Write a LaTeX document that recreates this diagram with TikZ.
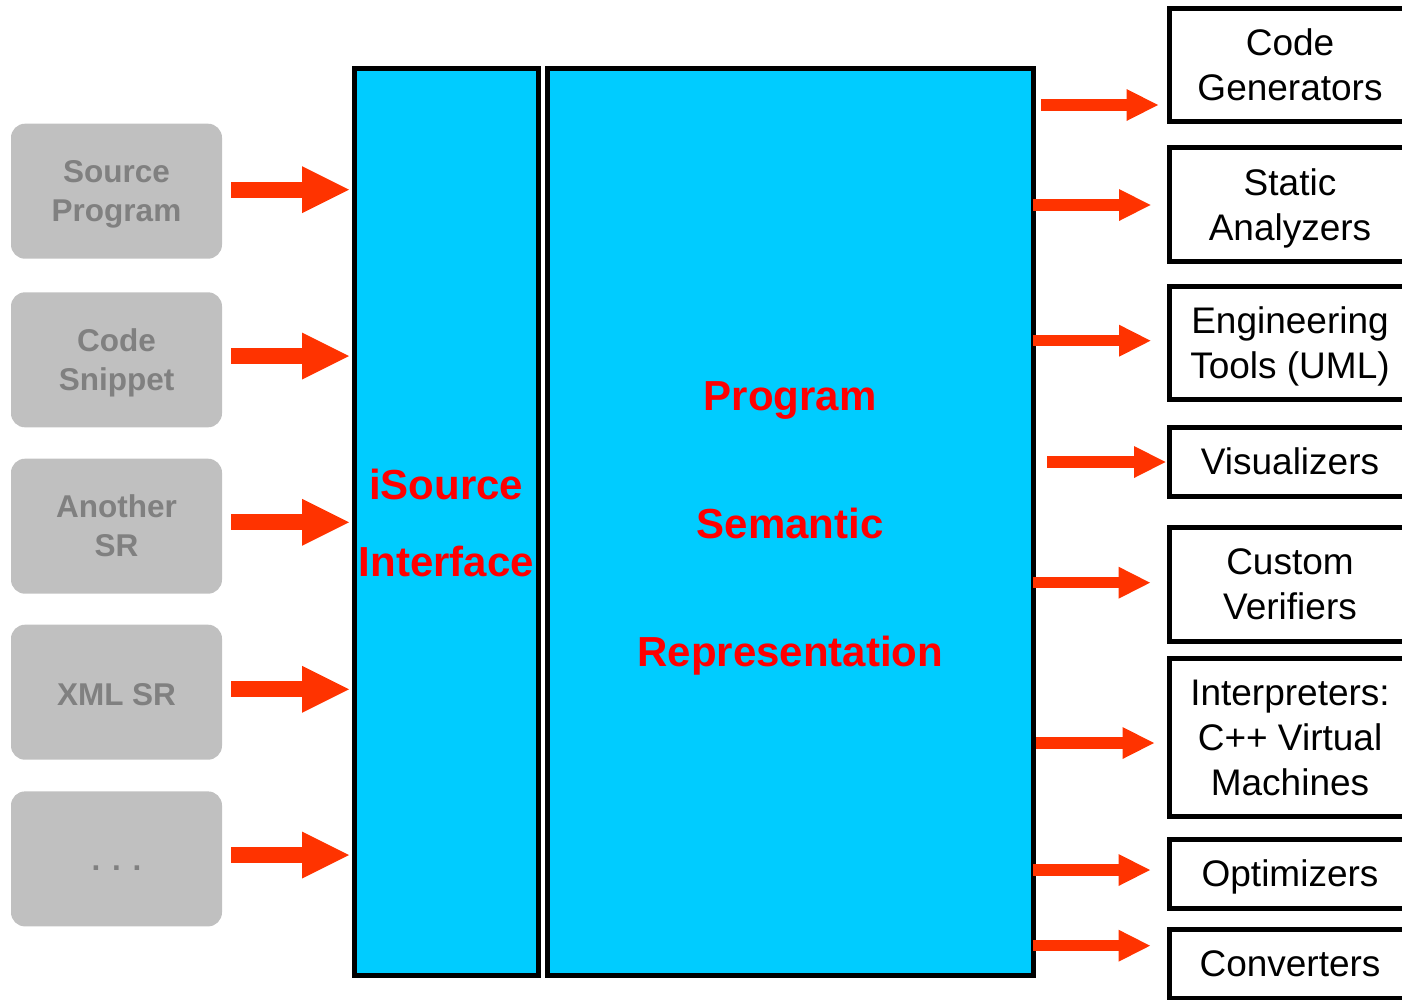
\documentclass[tikz,border=0pt]{standalone}
\usepackage{fontspec}
\setmainfont{Liberation Sans}
\usetikzlibrary{arrows.meta}
\definecolor{panelcyan}{HTML}{00CCFF}
\definecolor{srcgray}{HTML}{C0C0C0}
\definecolor{srctext}{HTML}{808080}
\definecolor{flowred}{HTML}{FF3300}
\definecolor{labelred}{HTML}{FF0000}
\tikzset{
  srcbox/.style={fill=srcgray, rounded corners=14pt, minimum width=211pt,
    minimum height=135pt, inner sep=0pt, text=srctext, align=center,
    text depth=0pt, font=\fontsize{31.5}{39}\selectfont\bfseries},
  corebox/.style={draw=black, line width=5pt, fill=panelcyan, text=labelred,
    align=center, inner sep=0pt, text depth=0pt},
  toolbox/.style={draw=black, line width=5pt, fill=white, minimum width=242pt,
    inner sep=0pt, align=center, text depth=0pt, font=\fontsize{37}{45}\selectfont},
  oneline/.style={text height=25.4pt},
  twoline/.style={text height=71.5pt},
  threeline/.style={text height=115.5pt},
  inarrow/.style={draw=flowred, line width=16.3pt,
    -{Triangle[length=47pt,width=47pt,line width=0pt]}},
  outarrow/.style={draw=flowred, line width=11.3pt,
    -{Triangle[length=31.5pt,width=32pt,line width=0pt]}}
}
\begin{document}
\begin{tikzpicture}[x=1pt,y=-1pt]
\path[use as bounding box, clip] (0,0) rectangle (1402,999);

% input sources
\node[srcbox, text height=60.6pt] (s1) at (116.5,191.2) {Source\\Program};
\node[srcbox, text height=60.6pt] (s2) at (116.5,359.8) {Code\\Snippet};
\node[srcbox, text height=60.6pt] (s3) at (116.5,526.2) {Another\\SR};
\node[srcbox, text height=25.6pt] (s4) at (116.5,692.2) {XML SR};
\node[srcbox, text height=23.6pt] (s5) at (116.5,858.9) {. . .};

% central blocks
\node[corebox, minimum width=183.5pt, minimum height=907pt, text height=109pt,
  font=\fontsize{42}{77}\selectfont\bfseries]
  (isrc) at (446.25,521.5) {iSource\\Interface};
\node[corebox, minimum width=485.5pt, minimum height=907pt, text height=289pt,
  font=\fontsize{42}{128}\selectfont\bfseries]
  (sr) at (790.25,521.5) {Program\\Semantic\\Representation};

% consumers
\node[toolbox, twoline, minimum height=113.5pt] (cg) at (1290,64.75) {Code\\Generators};
\node[toolbox, twoline, minimum height=113.5pt] (sa) at (1290,204.25) {Static\\Analyzers};
\node[toolbox, twoline, minimum height=113pt] (et) at (1290,342.5) {Engineering\\Tools (UML)};
\node[toolbox, oneline, minimum height=69pt] (vi) at (1290,461.5) {Visualizers};
\node[toolbox, twoline, minimum height=114pt] (cv) at (1290,584) {Custom\\Verifiers};
\node[toolbox, threeline, minimum height=158.5pt] (ip) at (1290,737.25) {Interpreters:\\C++ Virtual\\Machines};
\node[toolbox, oneline, minimum height=68.5pt] (op) at (1290,873.75) {Optimizers};
\node[toolbox, oneline, minimum height=69pt] (co) at (1290,964) {Converters};

% sources feed the interface
\draw[inarrow, shorten <=9pt, shorten >=3pt] (s1.east |- 0,189.7) -- (isrc.west |- 0,189.7);
\draw[inarrow, shorten <=9pt, shorten >=3pt] (s2.east |- 0,356) -- (isrc.west |- 0,356);
\draw[inarrow, shorten <=9pt, shorten >=3pt] (s3.east |- 0,522.3) -- (isrc.west |- 0,522.3);
\draw[inarrow, shorten <=9pt, shorten >=3pt] (s4.east |- 0,689.3) -- (isrc.west |- 0,689.3);
\draw[inarrow, shorten <=9pt, shorten >=3pt] (s5.east |- 0,855) -- (isrc.west |- 0,855);

% representation feeds the tools
\draw[outarrow, shorten <=5.5pt, shorten >=8.5pt] (sr.east |- 0,105) -- (cg.west |- 0,105);
\draw[outarrow, shorten <=-2.5pt, shorten >=16pt] (sr.east |- 0,205) -- (sa.west |- 0,205);
\draw[outarrow, shorten <=-2.5pt, shorten >=16pt] (sr.east |- 0,340.7) -- (et.west |- 0,340.7);
\draw[outarrow, shorten <=11.5pt, shorten >=1pt] (sr.east |- 0,462) -- (vi.west |- 0,462);
\draw[outarrow, shorten <=-2.5pt, shorten >=16.5pt] (sr.east |- 0,582.7) -- (cv.west |- 0,582.7);
\draw[outarrow, shorten <=0.5pt, shorten >=12.5pt] (sr.east |- 0,743) -- (ip.west |- 0,743);
\draw[outarrow, shorten <=-2.5pt, shorten >=16.5pt] (sr.east |- 0,870) -- (op.west |- 0,870);
\draw[outarrow, shorten <=-2.5pt, shorten >=16.5pt] (sr.east |- 0,945.7) -- (co.west |- 0,945.7);
\end{tikzpicture}
\end{document}
